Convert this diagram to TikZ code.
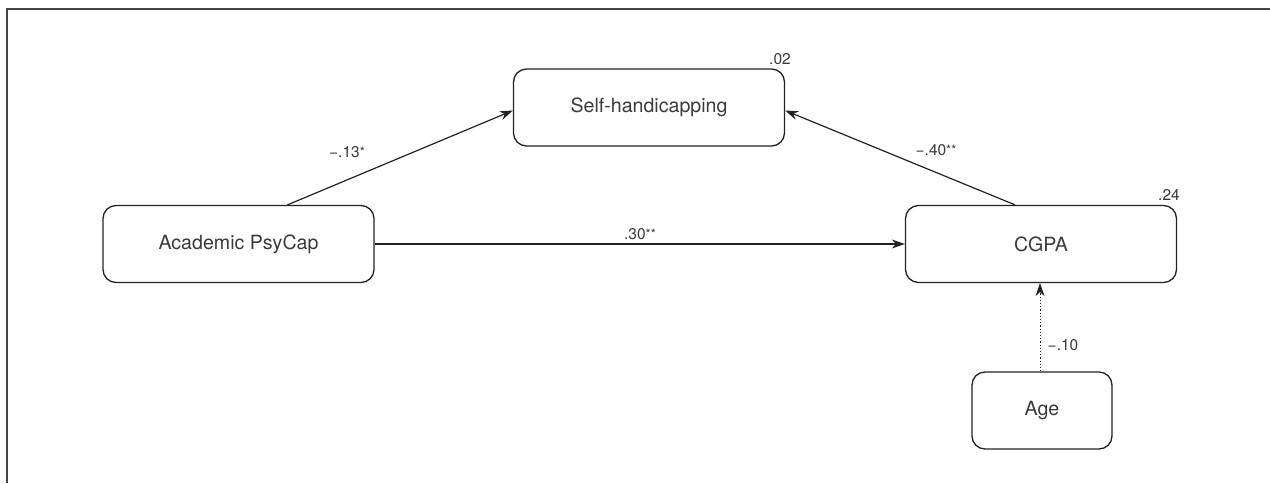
\documentclass[tikz,border=0pt]{standalone}
\usepackage{fontspec}
\setmainfont{TeX Gyre Heros}
\usetikzlibrary{arrows.meta}
\definecolor{txt}{HTML}{3A3A3A}
\definecolor{ln}{HTML}{222222}
\definecolor{frame}{HTML}{444444}
\tikzset{
  box/.style={draw=ln, line width=1.3pt, rounded corners=13pt, minimum width=271pt, minimum height=77pt, text=txt, font=\fontsize{19.6}{24}\selectfont, inner sep=0pt},
  smallbox/.style={box, minimum width=140pt},
  lab/.style={text=txt, font=\fontsize{15.5}{18}\selectfont, inner sep=0pt},
  arr/.style={draw=ln, line width=1.2pt, -{Stealth[length=13pt,width=9pt]}}
}
\newcommand{\stars}[1]{\raisebox{0.1ex}{\fontsize{13}{14}\selectfont #1}}
\begin{document}
\begin{tikzpicture}[x=1pt,y=-1pt]
\useasboundingbox (0,0) rectangle (1270,483);
\draw[frame, line width=2pt] (7,483) -- (7,9) -- (1270,9);
\node[box] (sh) at (649,107.5) {Self-handicapping};
\node[box] (ap) at (238.5,244) {Academic PsyCap};
\node[box] (cg) at (1041,244) {CGPA};
\node[smallbox] (age) at (1042,410.5) {Age};
\draw[arr] ([xshift=49pt]ap.north) -- ([yshift=-3pt]sh.west);
\draw[arr] ([xshift=-26pt]cg.north) -- ([yshift=-3pt]sh.east);
\draw[arr] (ap.east) -- (cg.west);
\draw[arr, dotted, line width=1pt] (age.north -| 1040,0) -- (cg.south -| 1040,0);
\node[lab] (l1) at (347,152) {−.13\stars{*}};
\node[lab] (l2) at (640,234) {.30\stars{**}};
\node[lab] (l3) at (936,150) {−.40\stars{**}};
\node[lab] (l4) at (1063,345) {−.10};
\node[lab] (r1) at (780,59) {.02};
\node[lab] (r2) at (1169,195) {.24};
\end{tikzpicture}
\end{document}
